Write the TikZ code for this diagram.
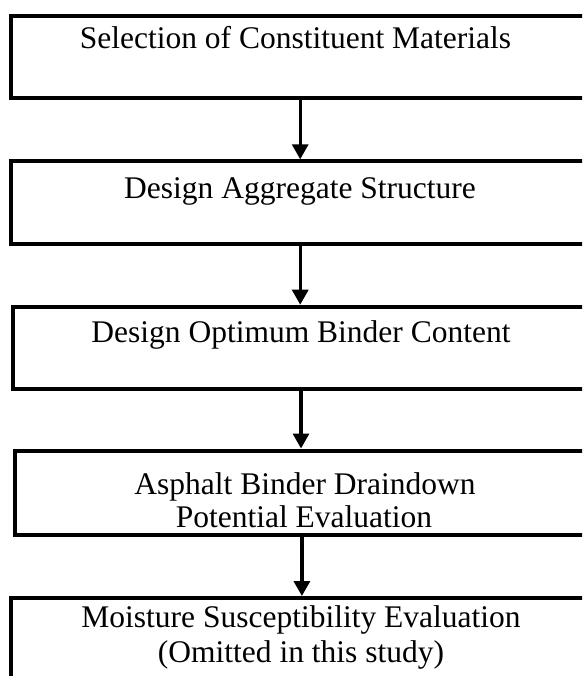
\documentclass[tikz,border=0pt]{standalone}
\usepackage{fontspec}
\setmainfont{Liberation Serif}
\usetikzlibrary{arrows.meta}
\begin{document}
\begin{tikzpicture}[x=1pt,y=-1pt,
  box/.style={draw, line width=4pt, rectangle, inner sep=0pt},
  lbl/.style={anchor=base, inner sep=0pt, font=\fontsize{31.5}{37}\selectfont},
  flow/.style={line width=3.3pt, -{Triangle[length=15pt,width=16pt]}}]
\useasboundingbox (0,0) rectangle (582,676);
\clip (0,0) rectangle (582,676);
\fill[white] (0,0) rectangle (582,676);
% boxes
\node[box, minimum width=577.7pt, minimum height=82.3pt] (b1) at (300.2,56.85) {};
\node[box, minimum width=577.7pt, minimum height=83pt]   (b2) at (300.2,202.8) {};
\node[box, minimum width=576pt,   minimum height=82.3pt] (b3) at (301,347.85) {};
\node[box, minimum width=574.3pt, minimum height=84.5pt] (b4) at (301.9,492.75) {};
\node[box, minimum width=577.7pt, minimum height=142pt]  (b5) at (300.2,669) {};
% labels
\node[lbl] (t1)  at (295.5,49)  {Selection of Constituent Materials};
\node[lbl] (t2)  at (300,199)   {Design Aggregate Structure};
\node[lbl] (t3)  at (301,342.5) {Design Optimum Binder Content};
\node[lbl] (t4a) at (305,494)   {Asphalt Binder Draindown};
\node[lbl] (t4b) at (304,527.5) {Potential Evaluation};
\node[lbl] (t5a) at (301,627.5) {Moisture Susceptibility Evaluation};
\node[lbl] (t5b) at (301,662)   {(Omitted in this study)};
% connectors
\draw[flow] (b1.south) -- (b2.north);
\draw[flow] (b2.south) -- (b2.south |- b3.north);
\draw[flow] (b3.south) -- (b3.south |- b4.north);
\draw[flow] (b4.south) -- (b4.south |- b5.north);
\end{tikzpicture}
\end{document}
